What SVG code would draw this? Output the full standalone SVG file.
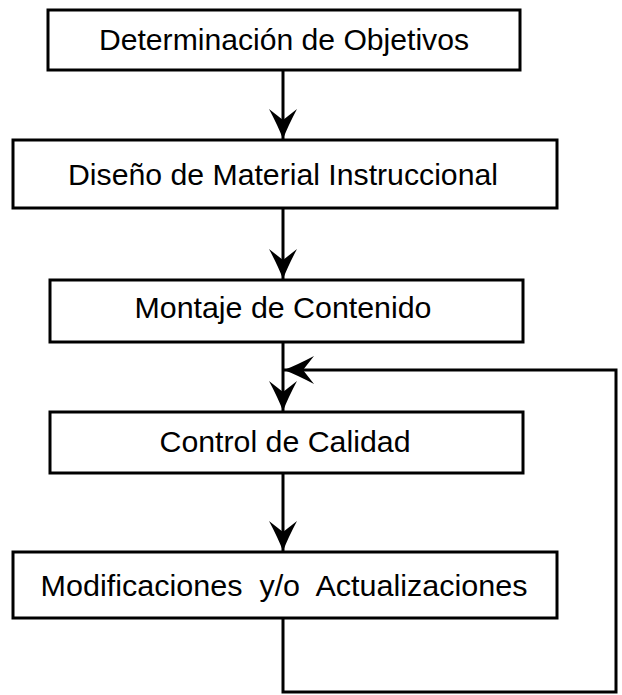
<svg xmlns="http://www.w3.org/2000/svg" width="622" height="695" viewBox="0 0 622 695">
  <style>
    .box { fill: #ffffff; stroke: #000000; stroke-width: 3; }
    .lbl { font-family: "Liberation Sans", Arial, Helvetica, sans-serif; font-size: 29px; fill: #000000; text-anchor: middle; }
    .con { fill: none; stroke: #000000; stroke-width: 3; }
  </style>
  <defs>
    <marker id="arr" markerUnits="userSpaceOnUse" viewBox="-31 -15 32 30" refX="0" refY="0" markerWidth="32" markerHeight="30" orient="auto">
      <path d="M0,0 Q-13,-5 -30,-14 L-19,0 L-30,14 Q-13,5 0,0 Z" fill="#000000"/>
    </marker>
  </defs>
  <rect width="622" height="695" fill="#ffffff"/>

  <g id="connectors">
    <line class="con" x1="283" y1="70" x2="283" y2="139" marker-end="url(#arr)"/>
    <line class="con" x1="283" y1="208" x2="283" y2="279" marker-end="url(#arr)"/>
    <line class="con" x1="283" y1="342" x2="283" y2="411" marker-end="url(#arr)"/>
    <line class="con" x1="283" y1="473" x2="283" y2="551" marker-end="url(#arr)"/>
    <polyline class="con" points="283,618 283,692 616,692 616,370 284,370" marker-end="url(#arr)"/>
  </g>

  <g id="n1">
    <rect class="box" x="48" y="10" width="472" height="60"/>
    <text class="lbl" x="284" y="50" textLength="370" lengthAdjust="spacingAndGlyphs">Determinación de Objetivos</text>
  </g>
  <g id="n2">
    <rect class="box" x="13" y="140" width="544" height="68"/>
    <text class="lbl" x="283" y="185" textLength="430" lengthAdjust="spacingAndGlyphs">Diseño de Material Instruccional</text>
  </g>
  <g id="n3">
    <rect class="box" x="50" y="280" width="473" height="62"/>
    <text class="lbl" x="283" y="318" textLength="297" lengthAdjust="spacingAndGlyphs">Montaje de Contenido</text>
  </g>
  <g id="n4">
    <rect class="box" x="50" y="412" width="473" height="61"/>
    <text class="lbl" x="285" y="452" textLength="251" lengthAdjust="spacingAndGlyphs">Control de Calidad</text>
  </g>
  <g id="n5">
    <rect class="box" x="13" y="552" width="544" height="66"/>
    <text class="lbl" x="284" y="596" textLength="487" lengthAdjust="spacingAndGlyphs" xml:space="preserve">Modificaciones  y/o  Actualizaciones</text>
  </g>
</svg>
